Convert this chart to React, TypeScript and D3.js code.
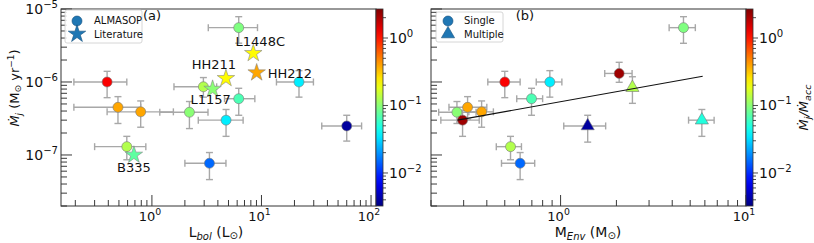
import React, { useEffect, useRef } from 'react'
import * as d3 from 'd3'

// panel (a): ALMASOP sources
const lbol = [6.2, 0.39, 0.49, 0.79, 2.2, 2.95, 6.2, 4.75, 22, 60, 0.59, 3.35]
const lbolLo = [3.27, 0.194, 0.194, 0.39, 1.18, 1.59, 4.6, 2.65, 13.7, 35.5, 0.3, 2.0]
const lbolHi = [9.2, 0.59, 0.79, 1.57, 3.25, 3.9, 8.7, 6.8, 29.8, 82, 0.88, 4.74]
const mjA = [5.55e-6, 1.0e-6, 4.5e-7, 3.9e-7, 3.85e-7, 8.6e-7, 5.9e-7, 3.0e-7, 1.0e-6, 2.5e-7, 1.3e-7, 7.7e-8]
const mjALo = [3.4e-6, 6.1e-7, 2.7e-7, 2.4e-7, 2.3e-7, 6.2e-7, 3.5e-7, 1.8e-7, 6.2e-7, 1.55e-7, 8.6e-8, 4.6e-8]
const mjAHi = [7.85e-6, 1.4e-6, 6.3e-7, 5.5e-7, 5.4e-7, 1.15e-6, 8.2e-7, 4.2e-7, 1.43e-6, 3.5e-7, 1.8e-7, 1.08e-7]
const ratioA = [0.093, 1.2, 0.39, 0.39, 0.1, 0.13, 0.066, 0.036, 0.036, 0.004, 0.13, 0.015]

// panel (a): literature sources
const litNames = ['L1448C', 'HH212', 'HH211', 'L1157', 'B335']
const litLbol = [8.42, 9.04, 4.74, 3.58, 0.685]
const litMj = [2.47e-6, 1.34e-6, 1.12e-6, 8.0e-7, 1.0e-7]
const litRatio = [0.22, 0.39, 0.22, 0.1, 0.075]

// panel (b)
const menv = [4.6, 2.07, 2.44, 0.875, 0.5, 0.697, 0.276, 0.315, 0.375, 0.296, 1.4, 5.78, 0.537, 0.605]
const menvLo = [3.85, 1.73, 2.44, 0.739, 0.405, 0.58, 0.22, 0.25, 0.32, 0.226, 1.04, 4.9, 0.45, 0.48]
const menvHi = [5.33, 2.43, 2.44, 1.016, 0.605, 0.8, 0.35, 0.4, 0.434, 0.364, 1.75, 6.73, 0.615, 0.725]
const mjB = [5.55e-6, 1.31e-6, 8.36e-7, 1.0e-6, 1.0e-6, 5.9e-7, 3.85e-7, 4.5e-7, 3.9e-7, 3.0e-7, 2.5e-7, 3.0e-7, 1.3e-7, 7.7e-8]
const mjBLo = [3.39e-6, 9.9e-7, 5.1e-7, 6.2e-7, 6.1e-7, 3.5e-7, 2.7e-7, 3.1e-7, 2.4e-7, 1.8e-7, 1.5e-7, 1.8e-7, 8.6e-8, 4.6e-8]
const mjBHi = [7.85e-6, 1.86e-6, 1.18e-6, 1.43e-6, 1.4e-6, 8.2e-7, 5.4e-7, 6.3e-7, 5.5e-7, 4.1e-7, 3.5e-7, 4.2e-7, 1.8e-7, 1.08e-7]
const ratioB = [0.093, 2.2, 0.13, 0.036, 1.2, 0.066, 0.1, 0.39, 0.39, 2.2, 0.004, 0.05, 0.13, 0.015]
const multiple = [false, false, true, false, false, false, false, false, false, false, true, true, false, false]

const fitX = [0.278, 5.84]
const fitY = [3.0e-7, 1.2e-6]

const font = 'DejaVu Sans, sans-serif'
const errColor = '#a8a8a8'

const jet = (t: number) => {
  const c = (v: number) => Math.round(255 * Math.max(0, Math.min(1, v)))
  return `rgb(${c(1.5 - Math.abs(4 * t - 3))},${c(1.5 - Math.abs(4 * t - 2))},${c(1.5 - Math.abs(4 * t - 1))})`
}
const cnorm = d3.scaleLog().domain([0.00324, 2.69]).range([0, 1]).clamp(true)
const cmap = (v: number) => jet(cnorm(v))

const App: React.FC = () => {
  const svgRef = useRef<SVGSVGElement>(null)

  useEffect(() => {
    if (!svgRef.current) return
    const svg = d3.select(svgRef.current)
    svg.selectAll('*').remove()

    const top = 9, bottom = 206

    // gradient for colorbars
    const defs = svg.append('defs')
    const grad = defs.append('linearGradient').attr('id', 'jet')
      .attr('x1', 0).attr('y1', 1).attr('x2', 0).attr('y2', 0)
    d3.range(0, 1.0001, 0.05).forEach(t => {
      grad.append('stop').attr('offset', t).attr('stop-color', jet(t))
    })

    const powLabel = (sel: any, exp: number, size: number) => {
      sel.append('tspan').text('10')
      sel.append('tspan').attr('dy', -size * 0.45).style('font-size', `${size * 0.72}px`)
        .text(exp < 0 ? `\u2212${-exp}` : `${exp}`)
    }

    const minorVals = (lo: number, hi: number) => {
      const out: number[] = []
      for (let e = Math.floor(Math.log10(lo)); e <= Math.ceil(Math.log10(hi)); e++) {
        for (let m = 1; m < 10; m++) {
          const v = m * Math.pow(10, e)
          if (v >= lo * 0.999 && v <= hi * 1.001) out.push(v)
        }
      }
      return out
    }

    const drawAxes = (x: d3.ScaleLogarithmic<number, number>, y: d3.ScaleLogarithmic<number, number>, showY: boolean) => {
      const [x0, x1] = x.range()
      const g = svg.append('g')
      // x ticks (inward)
      minorVals(x.domain()[0], x.domain()[1]).forEach(v => {
        const major = Math.abs(Math.log10(v) - Math.round(Math.log10(v))) < 1e-9
        g.append('line').attr('x1', x(v)).attr('x2', x(v))
          .attr('y1', bottom).attr('y2', bottom - (major ? 11 : 6))
          .attr('stroke', '#222').attr('stroke-width', 0.9)
        if (major) {
          const t = g.append('text').attr('x', x(v) - 2).attr('y', bottom + 15)
            .attr('text-anchor', 'middle').style('font-family', font).style('font-size', '13px').attr('fill', '#111')
          powLabel(t, Math.round(Math.log10(v)), 13)
        }
      })
      minorVals(y.domain()[0], y.domain()[1]).forEach(v => {
        const major = Math.abs(Math.log10(v) - Math.round(Math.log10(v))) < 1e-9
        g.append('line').attr('x1', x0).attr('x2', x0 + (major ? 11 : 6))
          .attr('y1', y(v)).attr('y2', y(v))
          .attr('stroke', '#222').attr('stroke-width', 0.9)
        if (major && showY) {
          const t = g.append('text').attr('x', x0 - 3).attr('y', y(v) + 5)
            .attr('text-anchor', 'end').style('font-family', font).style('font-size', '14px').attr('fill', '#111')
          powLabel(t, Math.round(Math.log10(v)), 14)
        }
      })
      g.append('rect').attr('x', x0).attr('y', top).attr('width', x1 - x0).attr('height', bottom - top)
        .attr('fill', 'none').attr('stroke', '#333').attr('stroke-width', 1)
    }

    const drawColorbar = (cx: number, labelX: number | null) => {
      const w = 7
      const cy = d3.scaleLog().domain([0.00324, 2.69]).range([bottom, top])
      const g = svg.append('g')
      g.append('rect').attr('x', cx).attr('y', top).attr('width', w).attr('height', bottom - top)
        .attr('fill', 'url(#jet)').attr('stroke', '#333').attr('stroke-width', 0.8)
      minorVals(0.00324, 2.69).forEach(v => {
        const major = Math.abs(Math.log10(v) - Math.round(Math.log10(v))) < 1e-9
        g.append('line').attr('x1', cx + w).attr('x2', cx + w + (major ? 5 : 3))
          .attr('y1', cy(v)).attr('y2', cy(v)).attr('stroke', '#222').attr('stroke-width', 0.8)
        if (major) {
          const t = g.append('text').attr('x', cx + w + 6).attr('y', cy(v) + 5)
            .style('font-family', font).style('font-size', '14px').attr('fill', '#111')
          powLabel(t, Math.round(Math.log10(v)), 14)
        }
      })
      if (labelX !== null) {
        const t = g.append('text').attr('transform', `translate(${labelX},${(top + bottom) / 2}) rotate(-90)`)
          .attr('text-anchor', 'middle').style('font-family', font).style('font-size', '13px')
          .style('font-style', 'italic').attr('fill', '#111')
        t.append('tspan').text('\u1E40')
        t.append('tspan').attr('dy', 3).style('font-size', '9.5px').text('j')
        t.append('tspan').attr('dy', -3).text('/\u1E40')
        t.append('tspan').attr('dy', 3).style('font-size', '9.5px').text('acc')
      }
    }

    const errorBars = (g: any, px: number, py: number, xl: number, xh: number, yl: number, yh: number) => {
      const line = (x1: number, y1: number, x2: number, y2: number) =>
        g.append('line').attr('x1', x1).attr('y1', y1).attr('x2', x2).attr('y2', y2)
          .attr('stroke', errColor).attr('stroke-width', 1.4)
      if (Math.abs(xh - xl) > 0.5) {
        line(xl, py, xh, py); line(xl, py - 3.5, xl, py + 3.5); line(xh, py - 3.5, xh, py + 3.5)
      }
      line(px, yl, px, yh); line(px - 3.5, yl, px + 3.5, yl); line(px - 3.5, yh, px + 3.5, yh)
    }

    // ---------------- panel (a)
    const xA = d3.scaleLog().domain([0.148, 111]).range([61, 376])
    const yA = d3.scaleLog().domain([2e-8, 1e-5]).range([bottom, top])
    const gA = svg.append('g')
    lbol.forEach((v, i) => {
      errorBars(gA, xA(v), yA(mjA[i]), xA(lbolLo[i]), xA(lbolHi[i]), yA(mjALo[i]), yA(mjAHi[i]))
    })
    lbol.forEach((v, i) => {
      gA.append('circle').attr('cx', xA(v)).attr('cy', yA(mjA[i])).attr('r', 5)
        .attr('fill', cmap(ratioA[i])).attr('stroke', '#777').attr('stroke-width', 0.6)
    })
    const star = d3.symbol().type(d3.symbolStar).size(95)
    litLbol.forEach((v, i) => {
      gA.append('path').attr('d', star()).attr('transform', `translate(${xA(v)},${yA(litMj[i])})`)
        .attr('fill', cmap(litRatio[i])).attr('stroke', '#888').attr('stroke-width', 0.6)
    })
    // annotations
    const annot = [
      { dx: 7, dy: -7, anchor: 'middle' },
      { dx: 11, dy: 5, anchor: 'start' },
      { dx: -12, dy: -9, anchor: 'middle' },
      { dx: -2, dy: 15, anchor: 'middle' },
      { dx: 0, dy: 17, anchor: 'middle' }
    ]
    litNames.forEach((n, i) => {
      gA.append('text').attr('x', xA(litLbol[i]) + annot[i].dx).attr('y', yA(litMj[i]) + annot[i].dy)
        .attr('text-anchor', annot[i].anchor).style('font-family', font).style('font-size', '13px')
        .attr('fill', '#111').text(n)
    })
    drawAxes(xA, yA, true)
    drawColorbar(376, null)

    // legend (a)
    const legA = svg.append('g')
    legA.append('rect').attr('x', 65).attr('y', 10).attr('width', 77).attr('height', 33).attr('rx', 2)
      .attr('fill', '#fff').attr('fill-opacity', 0.85).attr('stroke', '#ccc').attr('stroke-width', 0.8)
    legA.append('circle').attr('cx', 77).attr('cy', 21).attr('r', 5).attr('fill', '#1f77b4').attr('stroke', '#16507d').attr('stroke-width', 0.6)
    legA.append('path').attr('d', star()).attr('transform', 'translate(77,34)').attr('fill', '#1f77b4').attr('stroke', '#16507d').attr('stroke-width', 0.6)
    legA.append('text').attr('x', 94).attr('y', 24).style('font-family', font).style('font-size', '10px').attr('fill', '#111').text('ALMASOP')
    legA.append('text').attr('x', 94).attr('y', 38).style('font-family', font).style('font-size', '10px').attr('fill', '#111').text('Literature')
    svg.append('text').attr('x', 152).attr('y', 20).attr('text-anchor', 'middle').style('font-family', font)
      .style('font-size', '13px').attr('fill', '#111').text('(a)')

    // axis labels (a)
    const xlA = svg.append('text').attr('x', 216).attr('y', 237).attr('text-anchor', 'middle')
      .style('font-family', font).style('font-size', '14px').attr('fill', '#111')
    xlA.append('tspan').text('L')
    xlA.append('tspan').attr('dy', 3).style('font-size', '10px').style('font-style', 'italic').text('bol')
    xlA.append('tspan').attr('dy', -3).text(' (L')
    xlA.append('tspan').attr('dy', 2).style('font-size', '10px').text('\u2299')
    xlA.append('tspan').attr('dy', -2).text(')')

    const ylA = svg.append('text').attr('transform', `translate(19,88) rotate(-90)`)
      .attr('text-anchor', 'middle').style('font-family', font).style('font-size', '13px').attr('fill', '#111')
    ylA.append('tspan').style('font-style', 'italic').text('\u1E40')
    ylA.append('tspan').attr('dy', 3).style('font-size', '9px').style('font-style', 'italic').text('j')
    ylA.append('tspan').attr('dy', -3).text(' (M')
    ylA.append('tspan').attr('dy', 2).style('font-size', '9px').text('\u2299')
    ylA.append('tspan').attr('dy', -2).text(' yr')
    ylA.append('tspan').attr('dy', -5).style('font-size', '9px').text('\u22121')
    ylA.append('tspan').attr('dy', 5).text(')')

    // ---------------- panel (b)
    const xB = d3.scaleLog().domain([0.2, 10]).range([431, 746])
    const yB = d3.scaleLog().domain([2e-8, 1e-5]).range([bottom, top])
    const gB = svg.append('g')
    menv.forEach((v, i) => {
      errorBars(gB, xB(v), yB(mjB[i]), xB(menvLo[i]), xB(menvHi[i]), yB(mjBLo[i]), yB(mjBHi[i]))
    })
    const tri = d3.symbol().type(d3.symbolTriangle).size(75)
    menv.forEach((v, i) => {
      if (multiple[i]) {
        gB.append('path').attr('d', tri()).attr('transform', `translate(${xB(v)},${yB(mjB[i])})`)
          .attr('fill', cmap(ratioB[i])).attr('stroke', '#777').attr('stroke-width', 0.6)
      } else {
        gB.append('circle').attr('cx', xB(v)).attr('cy', yB(mjB[i])).attr('r', 5)
          .attr('fill', cmap(ratioB[i])).attr('stroke', '#777').attr('stroke-width', 0.6)
      }
    })
    gB.append('path').datum(fitX.map((v, i) => [v, fitY[i]] as [number, number]))
      .attr('d', d3.line<[number, number]>().x(d => xB(d[0])).y(d => yB(d[1])))
      .attr('fill', 'none').attr('stroke', '#111').attr('stroke-width', 1.1)
    drawAxes(xB, yB, false)
    drawColorbar(746, 808)

    const legB = svg.append('g')
    legB.append('rect').attr('x', 436).attr('y', 12).attr('width', 67).attr('height', 30).attr('rx', 2)
      .attr('fill', '#fff').attr('fill-opacity', 0.85).attr('stroke', '#ccc').attr('stroke-width', 0.8)
    legB.append('circle').attr('cx', 448).attr('cy', 21).attr('r', 5).attr('fill', '#1f77b4').attr('stroke', '#16507d').attr('stroke-width', 0.6)
    legB.append('path').attr('d', tri()).attr('transform', 'translate(448,34)').attr('fill', '#1f77b4').attr('stroke', '#16507d').attr('stroke-width', 0.6)
    legB.append('text').attr('x', 464).attr('y', 24).style('font-family', font).style('font-size', '10px').attr('fill', '#111').text('Single')
    legB.append('text').attr('x', 464).attr('y', 38).style('font-family', font).style('font-size', '10px').attr('fill', '#111').text('Multiple')
    svg.append('text').attr('x', 525).attr('y', 20).attr('text-anchor', 'middle').style('font-family', font)
      .style('font-size', '13px').attr('fill', '#111').text('(b)')

    const xlB = svg.append('text').attr('x', 588).attr('y', 237).attr('text-anchor', 'middle')
      .style('font-family', font).style('font-size', '14px').attr('fill', '#111')
    xlB.append('tspan').text('M')
    xlB.append('tspan').attr('dy', 3).style('font-size', '10px').style('font-style', 'italic').text('Env')
    xlB.append('tspan').attr('dy', -3).text(' (M')
    xlB.append('tspan').attr('dy', 2).style('font-size', '10px').text('\u2299')
    xlB.append('tspan').attr('dy', -2).text(')')
  }, [])

  return (
    <div style={{ position: 'absolute', left: 0, top: 0, background: '#fff' }}>
      <svg ref={svgRef} width={814} height={243} style={{ display: 'block' }} />
    </div>
  )
}

export default App
